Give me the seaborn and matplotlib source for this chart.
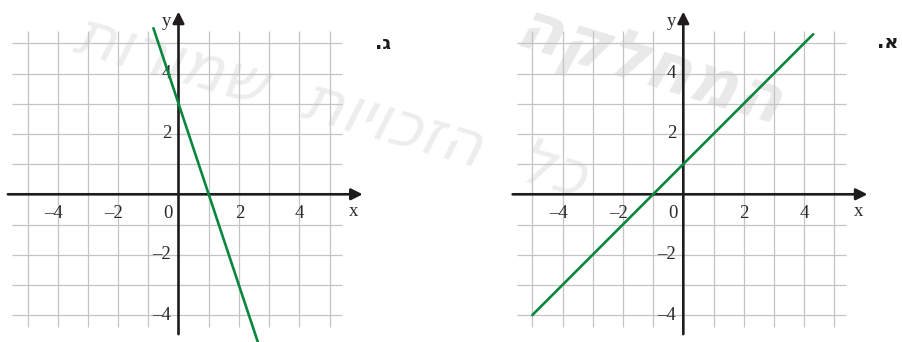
import numpy as np
import pandas as pd
import matplotlib
matplotlib.use("Agg")
import matplotlib.pyplot as plt
import seaborn as sns

# -----------------------------
# data
# -----------------------------
# panel ג : steep falling line
line_c_x = [-0.83, 2.63]
line_c_y = [5.5, -4.9]
# panel א : rising line
line_a_x = [-5.0, 4.3]
line_a_y = [-4.0, 5.3]

x_ticks = [-4, -2, 0, 2, 4]
y_ticks = [-4, -2, 2, 4]
x_grid = [-5, -4, -3, -2, -1, 1, 2, 3, 4, 5]
y_grid = [-4, -3, -2, -1, 1, 2, 3, 4, 5]
panel_labels = [".ג", ".א"]

sns.set_theme(style="white")
plt.rcParams['font.family'] = ['Liberation Serif', 'DejaVu Serif']

GREEN = "#0b873d"
GRID = "#c4c4c4"
INK = "#1e1c1c"
TXT = "#2b2b2b"

fig = plt.figure(figsize=(9.03, 3.42), dpi=100)

ppu = 30.2          # pixels per unit
y0_px = 194.3       # pixel row of y = 0
ylim = (-(342 - y0_px) / ppu, y0_px / ppu)

# (left px, right px, px of x = 0, px of panel label, line x, line y, label)
panels = [
    (0, 451, 178.5, 383, line_c_x, line_c_y, panel_labels[0]),
    (451, 903, 683.3, 888, line_a_x, line_a_y, panel_labels[1]),
]


def minus(v):
    return str(v).replace("-", "\u2013")


# faint watermark behind everything
wm = fig.add_axes([0, 0, 1, 1])
wm.set_xlim(0, 903)
wm.set_ylim(342, 0)
wm.axis("off")
wm.text(330, 108, "תורומש  תויוכזה  לכ", ha="center", va="center",
        rotation=-16, fontsize=45, color="#ededed", style="italic",
        family=["DejaVu Sans"])
wm.text(648, 70, "הקלחמה", ha="center", va="center",
        rotation=-17, fontsize=48, color="#e9e9e9", fontweight="bold",
        style="italic", family=["DejaVu Sans"])

for left, right, x0_px, lab_px, lx, ly, lab in panels:
    ax = fig.add_axes([left / 903, 0, (right - left) / 903, 1])
    ax.patch.set_alpha(0)
    ax.set_xlim(-(x0_px - left) / ppu, (right - x0_px) / ppu)
    ax.set_ylim(*ylim)
    ax.axis("off")

    # graph paper
    ax.vlines(x_grid, -4.4, 5.4, color=GRID, lw=0.9, zorder=1)
    ax.hlines(y_grid, -5.5, 5.4, color=GRID, lw=0.9, zorder=1)

    # axes with arrows
    ax.annotate("", xy=(6.1, 0), xytext=(-5.65, 0),
                arrowprops=dict(arrowstyle="-|>", lw=1.9, color=INK,
                                mutation_scale=17, shrinkA=0, shrinkB=0),
                zorder=3)
    ax.annotate("", xy=(0, 6.05), xytext=(0, -4.63),
                arrowprops=dict(arrowstyle="-|>", lw=1.9, color=INK,
                                mutation_scale=17, shrinkA=0, shrinkB=0),
                zorder=3)

    # the line itself
    df = pd.DataFrame({"x": lx, "y": ly})
    sns.lineplot(data=df, x="x", y="y", ax=ax, color=GREEN, lw=1.9,
                 sort=False, zorder=4)

    # tick labels
    for v in x_ticks:
        if v == 0:
            ax.text(-0.18, -0.63, "0", ha="right", va="center",
                    fontsize=13.5, color=TXT)
        else:
            ax.text(v + 0.17, -0.63, minus(v), ha="right", va="center",
                    fontsize=13.5, color=TXT)
    for v in y_ticks:
        ax.text(-0.24, v, minus(v), ha="right", va="center",
                fontsize=13.5, color=TXT)

    ax.text(-0.4, 5.72, "y", ha="center", va="center", fontsize=13.5,
            color=TXT)
    ax.text(5.8, -0.57, "x", ha="center", va="center", fontsize=13.5,
            color=TXT)

    ax.text((lab_px - x0_px) / ppu, (y0_px - 43) / ppu, lab,
            ha="center", va="center", fontsize=14, fontweight="bold",
            color="#1a1a1a", family=["DejaVu Sans"])

fig.savefig("out.png", dpi=100)
